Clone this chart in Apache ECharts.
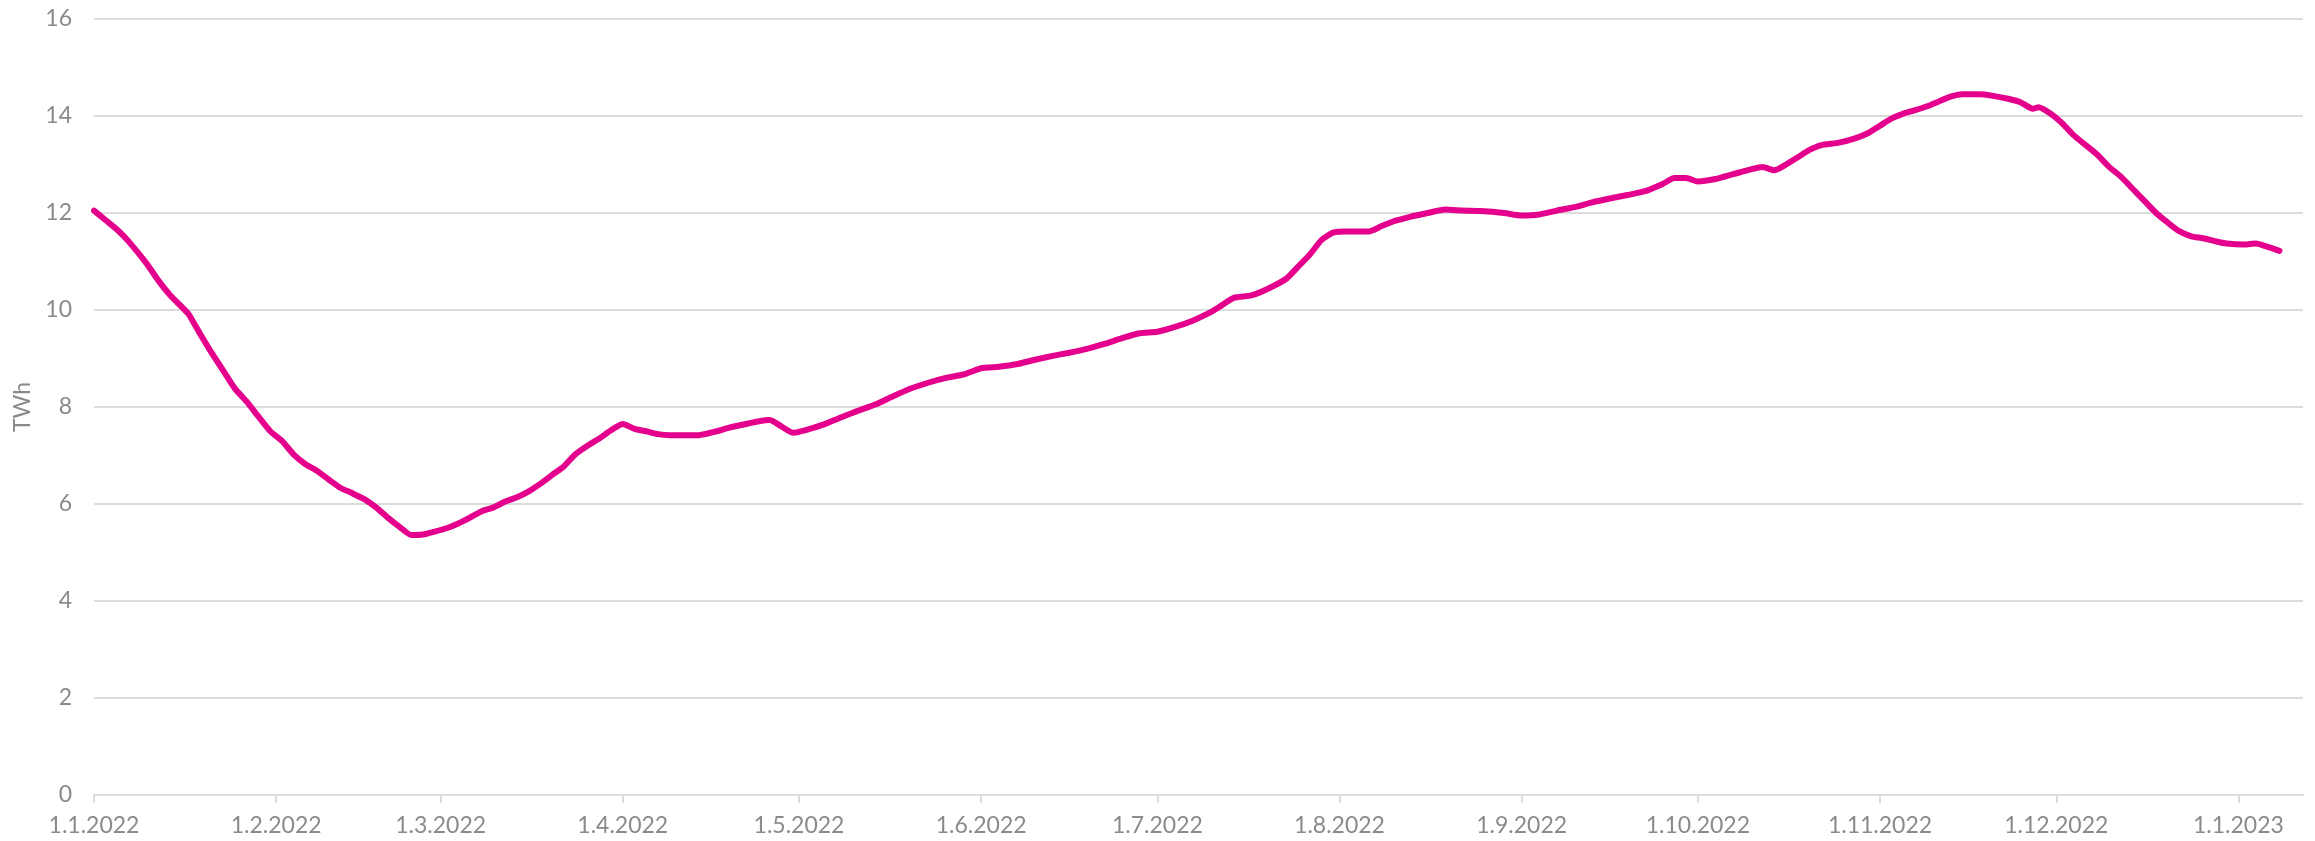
<!DOCTYPE html>
<html>
<head>
<meta charset="utf-8">
<script src="https://cdn.jsdelivr.net/npm/echarts@6/dist/echarts.min.js"></script>
<style>
  html, body { margin: 0; padding: 0; background: #ffffff; }
  #chart { width: 2315px; height: 841px; }
</style>
</head>
<body>
<div id="chart"></div>
<script>
// ---- data ----
const dates = [
  '2022-01-01','2022-01-03','2022-01-05','2022-01-07','2022-01-10','2022-01-12','2022-01-14','2022-01-17','2022-01-18','2022-01-19',
  '2022-01-21','2022-01-23','2022-01-25','2022-01-27','2022-01-29','2022-01-31',
  '2022-02-02','2022-02-04','2022-02-06','2022-02-08','2022-02-10','2022-02-12','2022-02-14','2022-02-16','2022-02-18','2022-02-20',
  '2022-02-22','2022-02-24','2022-02-26','2022-02-28',
  '2022-03-02','2022-03-04','2022-03-06','2022-03-08','2022-03-10','2022-03-12','2022-03-14','2022-03-16','2022-03-18','2022-03-20',
  '2022-03-22','2022-03-24','2022-03-26','2022-03-28','2022-03-30',
  '2022-04-01','2022-04-03','2022-04-05','2022-04-07','2022-04-09','2022-04-14','2022-04-17','2022-04-19','2022-04-22','2022-04-24',
  '2022-04-26','2022-04-28','2022-04-30',
  '2022-05-02','2022-05-05','2022-05-08','2022-05-11','2022-05-14','2022-05-17','2022-05-20','2022-05-23','2022-05-26','2022-05-29',
  '2022-06-01','2022-06-04','2022-06-07','2022-06-10','2022-06-13','2022-06-16','2022-06-19','2022-06-22','2022-06-25','2022-06-28',
  '2022-07-01','2022-07-04','2022-07-07','2022-07-10','2022-07-12','2022-07-14','2022-07-17','2022-07-20','2022-07-23','2022-07-25',
  '2022-07-27','2022-07-29','2022-07-31',
  '2022-08-02','2022-08-06','2022-08-08','2022-08-10','2022-08-13','2022-08-16','2022-08-19','2022-08-22','2022-08-25','2022-08-29',
  '2022-09-01','2022-09-04','2022-09-07','2022-09-10','2022-09-13','2022-09-16','2022-09-19','2022-09-22','2022-09-25','2022-09-27',
  '2022-09-29',
  '2022-10-01','2022-10-04','2022-10-07','2022-10-10','2022-10-12','2022-10-14','2022-10-16','2022-10-18','2022-10-20','2022-10-22',
  '2022-10-25','2022-10-28','2022-10-30',
  '2022-11-01','2022-11-03','2022-11-05','2022-11-07','2022-11-09','2022-11-11','2022-11-13','2022-11-15','2022-11-18','2022-11-20',
  '2022-11-23','2022-11-25','2022-11-27','2022-11-28','2022-11-30',
  '2022-12-02','2022-12-04','2022-12-06','2022-12-08','2022-12-10','2022-12-12','2022-12-14','2022-12-16','2022-12-18','2022-12-20',
  '2022-12-22','2022-12-24','2022-12-26','2022-12-28','2022-12-30',
  '2023-01-02','2023-01-04','2023-01-06','2023-01-08'
];
const storage = [
  12.05, 11.85, 11.65, 11.4, 10.95, 10.6, 10.3, 9.93, 9.73, 9.52,
  9.12, 8.75, 8.38, 8.11, 7.8, 7.5,
  7.3, 7.02, 6.82, 6.68, 6.5, 6.33, 6.22, 6.1, 5.93, 5.72,
  5.53, 5.36, 5.37, 5.43,
  5.5, 5.6, 5.72, 5.85, 5.93, 6.05, 6.14, 6.26, 6.42, 6.6,
  6.78, 7.03, 7.2, 7.35, 7.52,
  7.65, 7.55, 7.5, 7.44, 7.42, 7.42, 7.5, 7.57, 7.65, 7.7,
  7.73, 7.6, 7.47,
  7.52, 7.63, 7.78, 7.92, 8.05, 8.22, 8.38, 8.5, 8.6, 8.67,
  8.8, 8.83, 8.88, 8.97, 9.05, 9.12, 9.2, 9.3, 9.42, 9.52,
  9.55, 9.65, 9.78, 9.95, 10.1, 10.25, 10.3, 10.45, 10.65, 10.9,
  11.15, 11.45, 11.6,
  11.62, 11.62, 11.72, 11.82, 11.92, 12.0, 12.07, 12.05, 12.04, 12.0,
  11.95, 11.97, 12.05, 12.12, 12.22, 12.3, 12.37, 12.45, 12.6, 12.72,
  12.72,
  12.65, 12.7, 12.8, 12.9, 12.95, 12.88, 13.0, 13.15, 13.3, 13.4,
  13.45, 13.55, 13.65,
  13.8, 13.95, 14.05, 14.12, 14.2, 14.3, 14.4, 14.45, 14.45, 14.42,
  14.35, 14.28, 14.15, 14.18, 14.05,
  13.85, 13.6, 13.4, 13.2, 12.95, 12.75, 12.5, 12.25, 12.0, 11.8,
  11.62, 11.52, 11.48, 11.42, 11.37,
  11.35, 11.37, 11.3, 11.22
];
const tickDates = ['2022-01-01','2022-02-01','2022-03-01','2022-04-01','2022-05-01','2022-06-01','2022-07-01',
  '2022-08-01','2022-09-01','2022-10-01','2022-11-01','2022-12-01','2023-01-01'];
const tickLabels = ['1.1.2022','1.2.2022','1.3.2022','1.4.2022','1.5.2022','1.6.2022','1.7.2022',
  '1.8.2022','1.9.2022','1.10.2022','1.11.2022','1.12.2022','1.1.2023'];
const yTicks = [0, 2, 4, 6, 8, 10, 12, 14, 16];
const axisStart = '2022-01-01';
const axisEnd = '2023-01-12';
const yName = 'TWh';

// ---- chart ----
function ts(s) { const p = s.split('-').map(Number); return Date.UTC(p[0], p[1] - 1, p[2]); }
const tickTs = tickDates.map(ts);
const seriesData = dates.map((d, i) => [ts(d), storage[i]]);

const FONT = "Lato, 'Liberation Sans', sans-serif";
const TXT = '#8a8a8e';
const GRID = '#dcdcdc';

const chart = echarts.init(document.getElementById('chart'), null, { renderer: 'canvas' });
chart.setOption({
  animation: false,
  backgroundColor: '#ffffff',
  grid: { left: 94, right: 12, top: 19, bottom: 46, containLabel: false },
  xAxis: {
    type: 'value',
    min: ts(axisStart),
    max: ts(axisEnd),
    axisLine: { show: true, lineStyle: { color: GRID, width: 2 } },
    axisTick: { show: true, length: 8, lineStyle: { color: GRID, width: 2 }, customValues: tickTs },
    splitLine: { show: false },
    axisLabel: {
      customValues: tickTs,
      color: TXT, fontFamily: FONT, fontSize: 23, margin: 19,
      hideOverlap: false,
      showMinLabel: true, showMaxLabel: true,
      formatter: function (v) {
        let best = -1, bd = Infinity;
        tickTs.forEach((t, i) => { const d = Math.abs(t - v); if (d < bd) { bd = d; best = i; } });
        return bd < 86400000 ? tickLabels[best] : '';
      }
    }
  },
  yAxis: {
    type: 'value',
    min: yTicks[0], max: yTicks[yTicks.length - 1], interval: 2,
    name: yName, nameLocation: 'middle', nameGap: 57,
    nameTextStyle: { color: TXT, fontFamily: FONT, fontSize: 23 },
    axisLine: { show: false },
    axisTick: { show: false },
    splitLine: { show: true, lineStyle: { color: GRID, width: 2 } },
    axisLabel: { color: TXT, fontFamily: FONT, fontSize: 23, margin: 22 }
  },
  series: [{
    type: 'line',
    data: seriesData,
    showSymbol: false,
    symbol: 'none',
    smooth: 0.2,
    lineStyle: { color: '#e4008c', width: 6, cap: 'round', join: 'round' },
    itemStyle: { color: '#e4008c' }
  }]
});
</script>
</body>
</html>
